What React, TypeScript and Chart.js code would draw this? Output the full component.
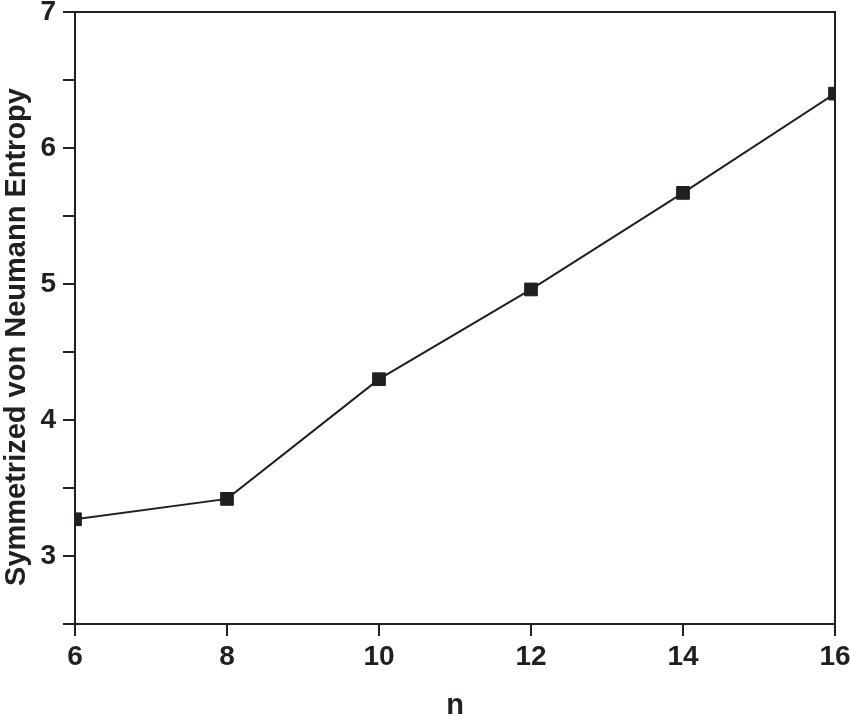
import React, { useEffect, useRef } from "react";
import { Chart, registerables } from "chart.js";

Chart.register(...registerables);

const nValues = [6, 8, 10, 12, 14, 16];
const entropyValues = [3.27, 3.42, 4.3, 4.96, 5.67, 6.4];
const xTitle = "n";
const yTitle = "Symmetrized von Neumann Entropy";

const INK = "#231f20";
const FONT = "'Liberation Sans', Arial, sans-serif";

const frameAndTitles = {
  id: "frameAndTitles",
  afterDraw(chart: any) {
    const { ctx, chartArea } = chart;
    const { left, right, top, bottom } = chartArea;
    ctx.save();
    ctx.strokeStyle = INK;
    ctx.lineWidth = 2;
    ctx.beginPath();
    ctx.moveTo(left, top);
    ctx.lineTo(right, top);
    ctx.lineTo(right, bottom);
    ctx.stroke();
    ctx.fillStyle = INK;
    ctx.font = `bold 29px ${FONT}`;
    ctx.textAlign = "center";
    ctx.textBaseline = "alphabetic";
    ctx.fillText(xTitle, (left + right) / 2, 714);
    ctx.translate(25, (top + bottom) / 2 + 19);
    ctx.rotate(-Math.PI / 2);
    ctx.fillText(yTitle, 0, 0);
    ctx.restore();
  },
};

export default function App() {
  const ref = useRef<HTMLCanvasElement>(null);
  useEffect(() => {
    document.body.style.margin = "0";
    const canvas = ref.current!;
    const chart = new Chart(canvas, {
      type: "line",
      data: {
        datasets: [
          {
            data: nValues.map((x, i) => ({ x, y: entropyValues[i] })),
            borderColor: INK,
            backgroundColor: INK,
            borderWidth: 2,
            pointStyle: "rect",
            pointRadius: 9,
            pointBorderWidth: 1,
            pointBackgroundColor: INK,
            pointBorderColor: INK,
            clip: 0,
            tension: 0,
          },
        ],
      },
      options: {
        animation: false,
        responsive: false,
        devicePixelRatio: 1,
        layout: { padding: { top: 12, right: 15, left: 0, bottom: 0 } },
        plugins: { legend: { display: false }, tooltip: { enabled: false } },
        scales: {
          x: {
            type: "linear",
            min: 6,
            max: 16,
            afterFit: (s: any) => {
              s.height = 92;
              s.paddingLeft = 0;
              s.paddingRight = 0;
            },
            ticks: {
              stepSize: 2,
              color: INK,
              font: { family: FONT, size: 28, weight: "bold" },
              padding: 4,
              maxRotation: 0,
            },
            grid: {
              display: true,
              drawOnChartArea: false,
              drawTicks: true,
              tickLength: 12,
              color: INK,
              lineWidth: 2,
            },
            border: { display: true, color: INK, width: 2 },
          },
          y: {
            type: "linear",
            min: 2.5,
            max: 7,
            afterFit: (s: any) => {
              s.width = 75;
              s.paddingTop = 0;
              s.paddingBottom = 0;
            },
            ticks: {
              stepSize: 0.5,
              color: INK,
              font: { family: FONT, size: 28, weight: "bold" },
              padding: 7,
              callback: (v: any) => (Number.isInteger(v) ? String(v) : ""),
            },
            grid: {
              display: true,
              drawOnChartArea: false,
              drawTicks: true,
              tickLength: 12,
              color: INK,
              lineWidth: 2,
            },
            border: { display: true, color: INK, width: 2 },
          },
        },
      },
      plugins: [frameAndTitles],
    });
    return () => chart.destroy();
  }, []);
  return (
    <div style={{ width: 850, height: 716, background: "#fff" }}>
      <canvas ref={ref} width={850} height={716} />
    </div>
  );
}
